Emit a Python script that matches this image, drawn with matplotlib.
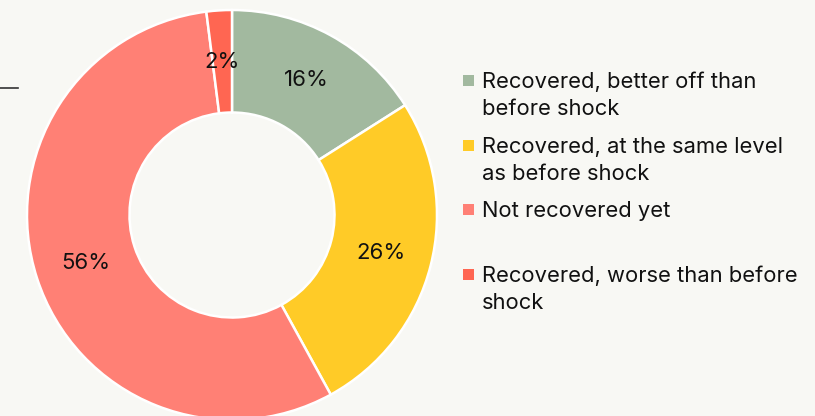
import matplotlib.pyplot as plt
import matplotlib.patches as mpatches
from matplotlib.lines import Line2D
import numpy as np

plt.rcParams['font.family'] = ['Inter', 'DejaVu Sans']

labels = ['Recovered, better off than\nbefore shock',
          'Recovered, at the same level\nas before shock',
          'Not recovered yet',
          'Recovered, worse than before\nshock']
shares = [16, 26, 56, 2]
colors = ['#a2b99f', '#ffcb27', '#ff8075', '#ff6652']

W, H = 815, 416
bg = '#f8f8f4'
fig = plt.figure(figsize=(W / 100, H / 100), dpi=100)
fig.patch.set_facecolor(bg)

# pie axes: centre at (232, 215) px, radius 205 px
cx, cy, R = 232, 215, 205
ax = fig.add_axes([(cx - R) / W, (H - cy - R) / H, 2 * R / W, 2 * R / H])
ax.set_facecolor(bg)

wedges, _ = ax.pie(shares, colors=colors, startangle=90, counterclock=False,
                   radius=1, wedgeprops=dict(width=0.5, edgecolor='white', linewidth=1.8))
for w, v in zip(wedges, shares):
    ang = np.deg2rad((w.theta1 + w.theta2) / 2)
    ax.text(0.75 * np.cos(ang), 0.75 * np.sin(ang), f'{v}%', ha='center', va='center',
            fontsize=16, color='#111111')
ax.set_xlim(-1, 1)
ax.set_ylim(-1, 1)
ax.axis('off')

# legend drawn by hand so the square sits on the first line
baselines = [88, 153, 217, 282]
for base, lab, col in zip(baselines, labels, colors):
    fig.add_artist(mpatches.Rectangle((463 / W, (H - base + 2) / H), 11 / W, 11 / H,
                                      transform=fig.transFigure, facecolor=col,
                                      edgecolor='none'))
    for i, line in enumerate(lab.split('\n')):
        fig.text(482 / W, (H - base - 27 * i) / H, line, ha='left', va='baseline',
                 fontsize=15.8, color='#111111', transform=fig.transFigure)

# stray rule at left edge
fig.add_artist(Line2D([0, 18 / W], [(H - 88) / H] * 2, transform=fig.transFigure,
                      color='#333333', linewidth=1.2))

fig.savefig('out.png', dpi=100, facecolor=bg)
